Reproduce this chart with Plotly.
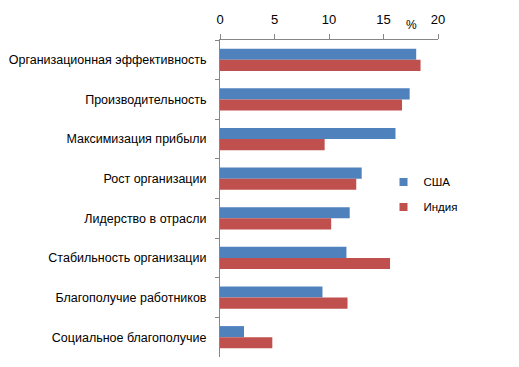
import plotly.graph_objects as go

categories = [
    "Организационная эффективность",
    "Производительность",
    "Максимизация прибыли",
    "Рост организации",
    "Лидерство в отрасли",
    "Стабильность организации",
    "Благополучие работников",
    "Социальное благополучие",
]
usa = [18.0, 17.4, 16.1, 13.0, 11.9, 11.6, 9.4, 2.2]
india = [18.4, 16.7, 9.6, 12.5, 10.2, 15.6, 11.7, 4.8]
x_ticks = [0, 5, 10, 15, 20]
series_names = ["США", "Индия"]
colors = ["#4F81BD", "#C0504D"]

font = "Liberation Sans, Arial, sans-serif"
axis_col = "#868686"

fig = go.Figure()
for name, vals, col in zip(series_names, [usa, india], colors):
    fig.add_trace(go.Bar(y=categories, x=vals, name=name, orientation="h",
                         marker=dict(color=col, line=dict(width=0)),
                         showlegend=False))
# legend entries with small square keys
for i, (name, col) in enumerate(zip(series_names, colors)):
    fig.add_trace(go.Scatter(x=[None], y=[None], mode="markers", name=name,
                             legendgroup=f"g{i}",
                             marker=dict(symbol="square", size=8, color=col)))

fig.update_layout(
    width=511, height=359,
    margin=dict(l=212, r=81, t=32, b=10, autoexpand=False),
    barmode="group", bargap=0.44, bargroupgap=0,
    paper_bgcolor="white", plot_bgcolor="white",
    font=dict(family=font, size=12.5, color="black"),
    showlegend=True,
    legend=dict(x=0.75, y=0.513, xanchor="left", yanchor="middle",
                bgcolor="rgba(0,0,0,0)", font=dict(size=11.5),
                itemwidth=30, tracegroupgap=6),
    xaxis=dict(side="top", range=[0, 20], tickvals=x_ticks,
               showgrid=False, zeroline=False, showline=True,
               linecolor=axis_col, linewidth=1, ticks="outside",
               ticklen=5, tickcolor=axis_col, tickfont=dict(size=13),
               ticklabelstandoff=5, automargin=False),
    yaxis=dict(autorange="reversed", showgrid=False, showline=True,
               linecolor=axis_col, linewidth=1, ticks="outside",
               ticklen=4, tickcolor=axis_col, tickson="boundaries",
               ticklabelstandoff=10, automargin=False),
    annotations=[dict(text="%", x=0.88, y=1.0, xref="paper", yref="paper",
                      xanchor="center", yanchor="bottom", yshift=6,
                      showarrow=False, font=dict(size=12))],
)

fig.write_html("out.html")
